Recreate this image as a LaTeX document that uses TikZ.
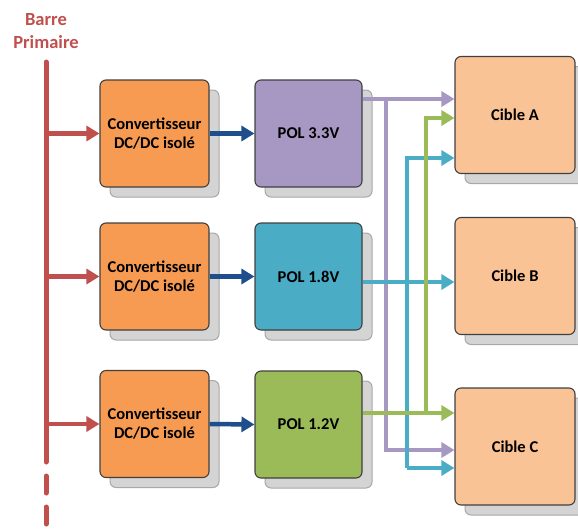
\documentclass[tikz,border=0pt]{standalone}
\usepackage{fontspec}
\setmainfont{Carlito}
\usetikzlibrary{arrows.meta}
\definecolor{barre}{HTML}{C0504D}
\definecolor{convc}{HTML}{F79B52}
\definecolor{cib}{HTML}{FAC396}
\definecolor{purp}{HTML}{A797C3}
\definecolor{teal}{HTML}{4BACC6}
\definecolor{grn}{HTML}{9BBB59}
\definecolor{dblue}{HTML}{1F4E8C}
\definecolor{shfill}{HTML}{D4D4D4}
\definecolor{shdraw}{HTML}{A8A8A8}
\tikzset{
  box/.style={draw=black!75, line width=1.1pt, rounded corners=6pt, align=center,
    font=\bfseries\fontsize{16.5}{19}\selectfont, inner sep=0pt},
  convbox/.style={box, fill=convc, minimum width=109pt, minimum height=107pt},
  polbox/.style={box, minimum width=107pt, minimum height=107pt},
  cibbox/.style={box, fill=cib, minimum width=120pt, minimum height=117pt},
  shadowbox/.style={draw=shdraw, fill=shfill, line width=1pt, rounded corners=6pt, inner sep=0pt},
  tip/.style={-{Triangle[length=13pt,width=15pt]}},
  feed/.style={barre, line width=4.5pt, tip},
  link/.style={dblue, line width=4.5pt, tip},
  wire/.style={line width=4.5pt, tip},
}
\begin{document}
\begin{tikzpicture}[x=1pt,y=-1pt]
\useasboundingbox (0,0) rectangle (578,528);
% labels
\node[text=barre, font=\bfseries\fontsize{18.5}{23}\selectfont, align=center] (lbl) at (46,31) {Barre\\Primaire};
% shadows
\foreach \n/\x/\y/\w/\h in {s1/164.5/143.5/109/107, s2/164.5/286.5/109/107, s3/164.5/434/109/107,
  s4/318.5/143.5/107/107, s5/318.5/286.5/107/107, s6/318.5/434.5/107/107,
  s7/525/125/120/117, s8/525/286/120/117, s9/525/456.5/120/117}
  \node[shadowbox, minimum width=\w pt, minimum height=\h pt] (\n) at (\x,\y) {};
% converters
\node[convbox] (c1) at (154.5,133.5) {Convertisseur\\DC/DC isolé};
\node[convbox] (c2) at (154.5,276.5) {Convertisseur\\DC/DC isolé};
\node[convbox] (c3) at (154.5,424) {Convertisseur\\DC/DC isolé};
% POL
\node[polbox, fill=purp] (p1) at (308.5,133.5) {POL 3.3V};
\node[polbox, fill=teal] (p2) at (308.5,276.5) {POL 1.8V};
\node[polbox, fill=grn] (p3) at (308.5,424.5) {POL 1.2V};
% cibles
\node[cibbox] (cA) at (515,115) {Cible A};
\node[cibbox] (cB) at (515,276) {Cible B};
\node[cibbox] (cC) at (515,446.5) {Cible C};
% barre
\coordinate (btop) at (46,62);
\coordinate (bmid) at (46,462);
\coordinate (bbot) at (46,528);
\draw[barre, line width=5pt, line cap=round] (btop) -- (bmid);
\draw[barre, line width=5pt, line cap=round, dash pattern=on 17pt off 14pt, dash phase=-14pt] (bmid) -- (bbot);
% feeds
\draw[feed] (btop |- c1.west) -- (c1.west);
\draw[feed] (btop |- c2.west) -- (c2.west);
\draw[feed] (btop |- c3.west) -- (c3.west);
% links
\draw[link] (c1.east) -- (p1.west);
\draw[link] (c2.east) -- (p2.west);
\draw[link] (c3.east) -- (p3.west);
% routing coordinates
\coordinate (pu1) at (386,99);
\coordinate (pu2) at (386,450);
\coordinate (te1) at (407,158);
\coordinate (te2) at (407,468);
\coordinate (te3) at (407,282);
\coordinate (gr1) at (426,118);
\coordinate (gr2) at (426,413);
% purple
\draw[wire, purp] (p1.east |- pu1) -- (cA.west |- pu1);
\draw[wire, purp] (pu1) -- (pu2) -- (cC.west |- pu2);
% teal
\draw[wire, teal] (te2) -- (te1) -- (cA.west |- te1);
\draw[wire, teal] (te2) -- (cC.west |- te2);
\draw[wire, teal] (p2.east |- te3) -- (cB.west |- te3);
% green
\draw[wire, grn] (p3.east |- gr2) -- (cC.west |- gr2);
\draw[wire, grn] (gr2) -- (gr1) -- (cA.west |- gr1);
\end{tikzpicture}
\end{document}
